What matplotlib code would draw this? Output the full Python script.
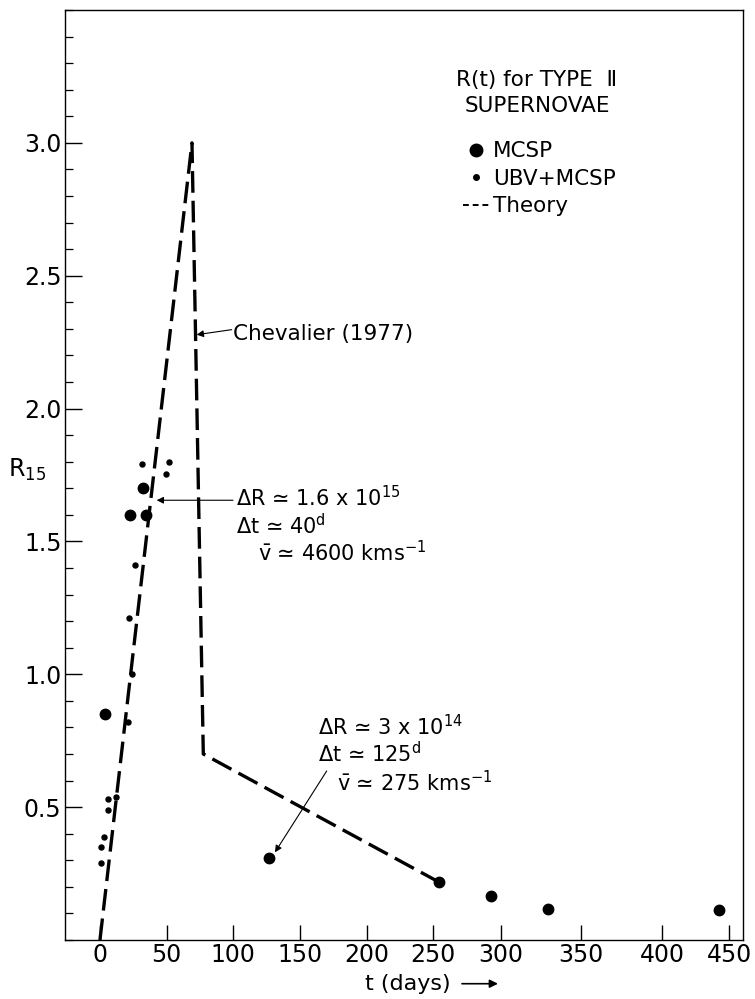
import numpy as np
import matplotlib
matplotlib.use("Agg")
import matplotlib.pyplot as plt
from matplotlib.lines import Line2D
from matplotlib.ticker import MultipleLocator, FixedLocator, NullLocator

plt.rcParams["font.family"] = ["DejaVu Sans"]
plt.rcParams["mathtext.fontset"] = "dejavusans"

# ---------------- data ----------------
# MCSP observations (large dots)
mcsp_t = [3.75, 22.5, 34.3, 32.0, 127.0, 254.5, 292.4, 329.2, 442.5]
mcsp_r = [0.85, 1.60, 1.60, 1.70, 0.307, 0.217, 0.167, 0.115, 0.114]

# UBV+MCSP observations (small dots)
ubv_t = [31.7, 51.75, 49.5, 26.0, 21.75, 23.75, 21.2, 6.2, 12.0, 6.2, 3.2, 0.5, 0.5]
ubv_r = [1.79, 1.80, 1.755, 1.41, 1.21, 1.00, 0.82, 0.53, 0.54, 0.49, 0.386, 0.35, 0.29]

# Theory (Chevalier 1977)
theory_t = [0.0, 69.0, 77.5, 254.5]
theory_r = [0.0, 3.0, 0.70, 0.217]

x_ticks = [0, 50, 100, 150, 200, 250, 300, 350, 400, 450]
x_tick_labels = ["0", "50", "100", "150", "200", "250", "300", "350", "400", "450"]
y_ticks = [0.5, 1.0, 1.5, 2.0, 2.5, 3.0]
y_tick_labels = ["0.5", "1.0", "1.5", "2.0", "2.5", "3.0"]

# The hand-drawn time axis of the original is unevenly spaced beyond 300 d;
# this calibration (day -> drawn distance from t=0) reproduces it as a scale.
warp_days = [-50, 0, 50, 100, 150, 200, 250, 300, 350, 400, 450, 500]
warp_dist = [-66.7, 0, 66.7, 133.3, 200, 266.7, 333.3, 401, 481, 562, 629, 696]


def fwd(t):
    return np.interp(t, warp_days, warp_dist)


def inv(d):
    return np.interp(d, warp_dist, warp_days)


# ---------------- figure ----------------
fig = plt.figure(figsize=(7.55, 9.99), dpi=100)
ax = fig.add_axes([65 / 755, 59 / 999, 678 / 755, 930 / 999])
ax.set_xscale("function", functions=(fwd, inv))
ax.set_xlim(-26.2, 460.4)
ax.set_ylim(0, 3.5)

ax.plot(theory_t, theory_r, color="k", lw=2.4, ls=(0, (6.5, 2.4)),
        dash_capstyle="butt", zorder=2)
ax.plot(mcsp_t, mcsp_r, ls="none", marker="o", ms=7.5, color="k", zorder=3)
ax.plot(ubv_t, ubv_r, ls="none", marker="o", ms=3.6, color="k", zorder=3)

# axes styling
ax.xaxis.set_major_locator(FixedLocator(x_ticks))
ax.set_xticklabels(x_tick_labels)
ax.xaxis.set_minor_locator(NullLocator())
ax.yaxis.set_major_locator(FixedLocator(y_ticks))
ax.set_yticklabels(y_tick_labels)
ax.yaxis.set_minor_locator(MultipleLocator(0.1))
ax.tick_params(axis="x", which="major", direction="in", length=11, width=1.0,
               labelsize=17, pad=2.5)
ax.tick_params(axis="y", which="major", direction="in", length=12, width=1.0,
               labelsize=17, pad=2.5)
ax.tick_params(axis="y", which="minor", direction="in", length=6, width=0.9)
for s in ax.spines.values():
    s.set_linewidth(1.0)

# axis labels
ax.text(-0.084, 0.506, "R$_{15}$", transform=ax.transAxes, ha="left",
        va="center", fontsize=17)
ax.text(0.505, -0.047, "t (days)", transform=ax.transAxes, ha="center",
        va="center", fontsize=16)
ax.annotate("", xy=(0.6386, -0.047), xytext=(0.5855, -0.047),
            xycoords="axes fraction", textcoords="axes fraction",
            annotation_clip=False,
            arrowprops=dict(arrowstyle="-|>", lw=1.2, color="k",
                            mutation_scale=12, shrinkA=0, shrinkB=0))

# title block and legend
ax.text(0.696, 0.9355, "R(t) for TYPE  \u2161\nSUPERNOVAE", transform=ax.transAxes,
        ha="center", va="top", fontsize=15.5, multialignment="center",
        linespacing=1.4)
h_mcsp = Line2D([], [], ls="none", marker="o", ms=9, color="k")
h_ubv = Line2D([], [], ls="none", marker="o", ms=4, color="k")
h_theory = Line2D([], [], color="k", lw=1.4, ls=(0, (3, 2)))
ax.legend([h_mcsp, h_ubv, h_theory], ["MCSP", "UBV+MCSP", "Theory"],
          loc="upper left", bbox_to_anchor=(0.587, 0.859), frameon=False,
          fontsize=15.5, handlelength=1.2, handletextpad=0.2,
          labelspacing=0.35, borderpad=0, borderaxespad=0)

# annotations
arrow_kw = dict(arrowstyle="-|>", lw=0.8, color="k", mutation_scale=10,
                shrinkA=0, shrinkB=0)
ax.annotate("", xy=(72.5, 2.278), xytext=(98.8, 2.297), arrowprops=arrow_kw)
ax.text(100, 2.259, "Chevalier (1977)", ha="left", va="baseline", fontsize=15.5)

ax.annotate("", xy=(42.5, 1.655), xytext=(99.8, 1.655), arrowprops=arrow_kw)
ax.text(102, 1.633, "\u0394R \u2243 1.6 x 10$^{15}$", ha="left", va="baseline",
        fontsize=15)
ax.text(102, 1.526, "\u0394t \u2243 40$^{\\mathrm{d}}$", ha="left", va="baseline",
        fontsize=15)
ax.text(118.5, 1.426, "$\\bar{\\mathrm{v}}$ \u2243 4600 kms$^{-1}$", ha="left",
        va="baseline", fontsize=15)

ax.annotate("", xy=(131.25, 0.33), xytext=(170, 0.636), arrowprops=arrow_kw)
ax.text(163.7, 0.771, "\u0394R \u2243 3 x 10$^{14}$", ha="left", va="baseline",
        fontsize=15)
ax.text(163.7, 0.669, "\u0394t \u2243 125$^{\\mathrm{d}}$", ha="left",
        va="baseline", fontsize=15)
ax.text(177.5, 0.561, "$\\bar{\\mathrm{v}}$ \u2243 275 kms$^{-1}$", ha="left",
        va="baseline", fontsize=15)

fig.savefig("out.png", dpi=100)
